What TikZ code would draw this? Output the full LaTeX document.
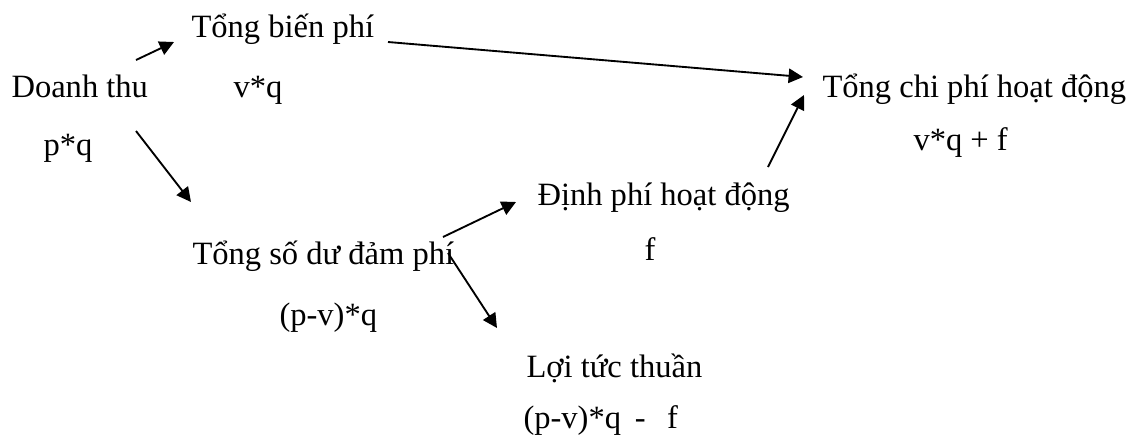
\documentclass[tikz,border=0pt]{standalone}
\usepackage{fontspec}
\setmainfont{Liberation Serif}
\usetikzlibrary{arrows.meta}
\begin{document}
\begin{tikzpicture}[x=0.375pt,y=-0.375pt,
  lbl/.style={inner sep=0pt,anchor=base west,font=\fontsize{12.2}{14}\selectfont},
  arr/.style={line width=0.7pt,-{Triangle[length=5.4pt,width=5.4pt]}}]
\useasboundingbox (0,0) rectangle (1130,441);
\node[lbl] (dt) at (11,97) {Doanh thu};
\node[lbl] (pq) at (43,155) {p*q};
\node[lbl] (tbp) at (191,37) {Tổng biến phí};
\node[lbl] (vq) at (233,97) {v*q};
\node[lbl] (tcp) at (822,97) {Tổng chi phí hoạt động};
\node[lbl] (vqf) at (913,150) {v*q + f};
\node[lbl] (dp) at (537,205) {Định phí hoạt động};
\node[lbl] (f) at (644,260) {f};
\node[lbl] (tsd) at (192,264) {Tổng số dư đảm phí};
\node[lbl] (pvq) at (279,325) {(p-v)*q};
\node[lbl] (ltt) at (526,377) {Lợi tức thuần};
\node[lbl] (pvqf) at (523,428) {(p-v)*q\hspace{5.2pt}-\hspace{8pt}f};
\coordinate (a1s) at (136,60);  \coordinate (a1e) at (174,42);
\coordinate (a2s) at (136,131); \coordinate (a2e) at (191,202);
\coordinate (a3s) at (388,42);  \coordinate (a3e) at (803,77);
\coordinate (a4s) at (768,167); \coordinate (a4e) at (804,95);
\coordinate (a5s) at (443,237); \coordinate (a5e) at (516,202);
\coordinate (a6s) at (448,253); \coordinate (a6e) at (497,328);
\draw[arr] (a1s) -- (a1e);
\draw[arr] (a2s) -- (a2e);
\draw[arr] (a3s) -- (a3e);
\draw[arr] (a4s) -- (a4e);
\draw[arr] (a5s) -- (a5e);
\draw[arr] (a6s) -- (a6e);
\end{tikzpicture}
\end{document}
